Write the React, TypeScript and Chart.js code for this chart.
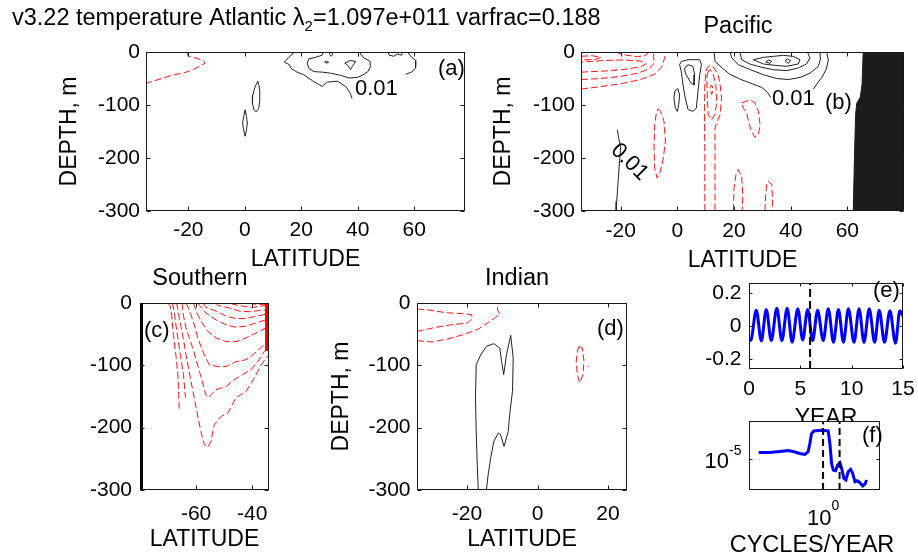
import React, { useEffect, useRef } from 'react';
import { Chart, registerables } from 'chart.js';

Chart.register(...registerables);

const FONT = "'Liberation Sans', Arial, Helvetica, sans-serif";
const RED = 'rgb(255,20,20)';
const DARK = '#222222';

type Pt = [number, number];

// ---------- shared ticks ----------
const latTicksAB = [-20, 0, 20, 40, 60];
const latTicksC = [-60, -40];
const latTicksD = [-20, 0, 20];
const depthTicks = [0, -100, -200, -300];
const yearTicks = [0, 5, 10, 15];
const anomTicks = [-0.2, 0, 0.2];
const freqTicks = [1];
const powerTicks = [1e-5];

// ---------- (a) Atlantic contours (lat, depth) ----------
const aNeg1: Pt[] = [[-20.6, 0], [-20.0, -8], [-17.6, -11], [-14.7, -16], [-14.1, -21], [-15.9, -27], [-18.2, -33], [-21.8, -40], [-25.3, -43], [-28.9, -49], [-33.6, -57], [-35, -59]];
const aPos1: Pt[] = [[4.6, -55], [3.6, -66], [2.8, -82], [2.7, -97], [3.2, -108], [4.0, -113], [4.9, -107], [5.3, -92], [5.3, -75], [5.0, -63], [4.6, -55]];
const aPos2: Pt[] = [[0.1, -109], [-0.4, -122], [-0.8, -134], [-0.4, -147], [0.1, -159], [0.6, -147], [0.9, -134], [0.6, -122], [0.1, -109]];
const aPos3: Pt[] = [[17.6, 0], [15.6, -10], [14.0, -19], [15.8, -24], [16.4, -31], [18.5, -38], [20.9, -43], [23.9, -54], [27.4, -65], [29.2, -57], [32.8, -55], [35.7, -65], [37.3, -77], [38.0, -88]];
const aPos4: Pt[] = [[27.8, 0], [27.4, -6], [25.1, -10], [22.7, -13], [22.1, -21], [22.7, -31], [24.5, -37], [27.4, -38], [30.4, -40], [33.9, -44], [36.9, -49], [39.9, -48], [41.6, -44], [43.6, -37], [44.6, -27], [44.4, -18], [42.2, -11], [41.0, -4], [40.8, 0]];
const aPos5: Pt[] = [[35.4, -21], [37.3, -16], [39.3, -18], [38.1, -27], [37.5, -33], [36.3, -24], [35.4, -21]];
const aPos6: Pt[] = [[30.2, 0], [30.0, -5], [30.6, -8], [31.1, -5], [31.0, 0]];
const aPos7: Pt[] = [[28.3, -19], [29.0, -17.5], [29.7, -19.5], [29.0, -21], [28.3, -19]];
const aPos8: Pt[] = [[50.8, 0], [51.1, -6], [52.7, -8], [54.1, -4], [55.5, -6], [55.9, 0]];
const aPos9: Pt[] = [[57.6, 0], [59.1, -10], [60.6, -16], [60.5, -30], [59.1, -38], [57.0, -42]];

// ---------- (b) Pacific ----------
const bNeg1: Pt[] = [[-34, -70], [-28, -66], [-20, -60], [-13, -52], [-8, -42], [-5.5, -28], [-4.5, -12], [-4.2, 0]];
const bNeg2: Pt[] = [[-34, -52], [-27, -50], [-20, -46], [-14, -40], [-10, -32], [-8, -20], [-8.5, -8], [-8, 0]];
const bNeg3: Pt[] = [[-34, -38], [-26, -36], [-19, -33], [-13, -28], [-11, -22], [-13, -17], [-19, -15], [-26, -16], [-34, -19]];
const bNeg4: Pt[] = [[-34, -8], [-30, -7], [-27, -10], [-29, -14], [-34, -15]];
const bNeg5: Pt[] = [[-22, 0], [-18, -6], [-14, -9], [-11, -6], [-10, 0]];
const bNeg6: Pt[] = [[9.7, -300], [9.7, -200], [9.6, -120], [9.7, -60], [10.3, -32], [11.5, -25], [13.0, -30], [14.5, -45], [15.1, -62], [15.6, -87], [15.1, -118], [13.9, -134], [13.3, -143], [13.3, -220], [13.3, -300]];
const bNeg7: Pt[] = [[10.6, -40], [11.5, -33], [12.7, -43], [13.6, -62], [13.9, -93], [13.3, -118], [12.1, -128], [10.9, -118], [10.6, -87], [10.4, -55], [10.6, -40]];
const bNeg8: Pt[] = [[11.5, -68], [12.1, -62], [12.7, -71], [12.1, -80], [11.5, -68]];
const bNeg9: Pt[] = [[-6.8, -107], [-5.9, -112], [-4.7, -131], [-4.2, -168], [-5.1, -206], [-6.2, -228], [-7.1, -238], [-8.0, -219], [-8.2, -181], [-8.0, -137], [-7.4, -115], [-6.8, -107]];
const bNeg10: Pt[] = [[22.7, -96], [25.6, -90], [27.4, -96], [28.6, -112], [29.2, -137], [28.6, -156], [27.4, -161], [26.2, -150], [25.1, -131], [24.5, -115], [23.3, -106], [22.7, -96]];
const bNeg11: Pt[] = [[19.8, -300], [20.0, -257], [20.7, -231], [21.5, -222], [22.7, -235], [23.1, -269], [22.9, -300]];
const bNeg12: Pt[] = [[30.9, -300], [31.2, -269], [31.5, -250], [32.1, -244], [33.3, -250], [33.6, -276], [33.5, -300]];
const bPos1: Pt[] = [[1.4, -18], [3.8, -14.5], [7.9, -14.5], [8.5, -24], [7.9, -43], [7.3, -74], [6.7, -106], [5.5, -112], [3.8, -109], [2.8, -87], [2.0, -62], [1.4, -37], [0.8, -24], [1.4, -18]];
const bPos2: Pt[] = [[2.6, -30], [3.8, -24], [5.5, -27], [6.1, -43], [5.9, -62], [4.9, -59], [3.8, -49], [2.8, -40], [2.6, -30]];
const bPos3: Pt[] = [[-0.9, -74], [0.2, -69], [0.8, -81], [0.5, -99], [0, -112], [-0.7, -106], [-1.2, -87], [-0.9, -74]];
const bPos4: Pt[] = [[-21.2, -147], [-20.7, -162], [-20.0, -181], [-20.4, -206], [-20.9, -244], [-21.4, -282], [-21.6, -300]];
const bPos5: Pt[] = [[13.0, 0], [13.3, -18], [15.8, -30], [18.5, -42], [22.5, -52], [26.5, -60], [29.8, -67], [31.8, -76], [33.0, -86]];
const bPos6: Pt[] = [[52.7, 0], [53.3, -15], [52.6, -32], [51.0, -48], [49.0, -62], [48.0, -70]];
const bPos7: Pt[] = [[18.6, 0], [19.2, -11], [21.5, -24], [25.6, -33], [30.4, -43], [35.1, -50], [39.2, -52], [43.3, -48], [46.8, -40], [49.8, -27], [50.6, -11], [50.4, 0]];
const bPos8: Pt[] = [[22.1, 0], [22.7, -14.5], [25.6, -22.6], [29.8, -28.9], [33.9, -33.3], [38.6, -35.2], [42.7, -30.2], [45.6, -22.6], [46.8, -11.3], [45.9, 0]];
const bPos9: Pt[] = [[26.8, -14.5], [30.4, -10.1], [33.9, -8.2], [37.4, -6.3], [40.9, -8.2], [43.3, -14.5], [42.7, -22.6], [38.6, -27.0], [34.5, -25.2], [30.4, -22.6], [26.8, -14.5]];
const bPos10: Pt[] = [[31.3, -18.9], [32.1, -15.1], [33.3, -17.6], [32.7, -21.4], [31.3, -18.9]];
const bPos11: Pt[] = [[38.0, -16.4], [38.8, -13.2], [40.0, -16.4], [39.2, -21.4], [38.0, -16.4]];
const bLand: Pt[] = [[65.6, 0], [65.2, -60], [64.6, -85], [63.3, -97], [62.9, -120], [62.5, -200], [62.1, -300], [80, -300], [80, 0], [65.6, 0]];

// ---------- (c) Southern ----------
const cNeg1: Pt[] = [[-70, 0], [-69.2, -5], [-68.6, -24], [-68.1, -51], [-67.2, -83], [-66.5, -115], [-66.2, -147], [-66.0, -174]];
const cNeg2: Pt[] = [[-68.5, 0], [-67.8, -13], [-66.9, -45], [-65.6, -83], [-64.5, -115], [-63.8, -152]];
const cNeg3: Pt[] = [[-67, 0], [-66.4, -12], [-66.0, -24], [-64.8, -51], [-63.6, -83], [-61.8, -126], [-60.0, -168], [-58.3, -206], [-57.1, -227], [-55.9, -232], [-54.7, -222], [-53.5, -195], [-51.1, -182], [-48.7, -177], [-45.8, -152], [-42.2, -142], [-39.2, -120], [-37.4, -104], [-35.1, -88], [-34, -84]];
const cNeg4: Pt[] = [[-65, 0], [-64.5, -20], [-63.6, -40], [-61.2, -72], [-58.8, -110], [-56.5, -147], [-55.5, -152], [-54.7, -147], [-52.9, -139], [-49.3, -134], [-46.4, -123], [-43.4, -115], [-40.4, -107], [-38.0, -94], [-35.7, -78], [-34, -72]];
const cNeg5: Pt[] = [[-63.5, 0], [-62, -17], [-60.6, -35], [-59.4, -56], [-57.1, -83], [-55.3, -99], [-52.3, -102], [-49.3, -102], [-45.8, -94], [-42.2, -91], [-39.8, -83], [-36.9, -72], [-34.8, -62], [-34, -60]];
const cNeg6: Pt[] = [[-61, 0], [-60.3, -8], [-59.5, -18], [-58.0, -31], [-55.9, -45], [-52.9, -56], [-49.3, -62], [-45.8, -62], [-42.2, -56], [-38.6, -48], [-35.1, -40], [-34, -38]];
const cNeg7: Pt[] = [[-59.5, 0], [-57.8, -9], [-56.5, -16], [-52.9, -27], [-49.3, -35], [-45.8, -39], [-42.2, -37], [-38.6, -32], [-35.1, -27], [-34, -26]];
const cNeg8: Pt[] = [[-57.5, 0], [-56.5, -7], [-52.9, -13], [-49.3, -21], [-45.8, -25], [-42.2, -25], [-38.6, -21], [-34.8, -18], [-34, -17]];
const cNeg9: Pt[] = [[-53, 0], [-52.3, -4], [-48.1, -8], [-44.6, -13], [-41.0, -14], [-37.4, -12], [-34.5, -11], [-34, -10.5]];
const cNeg10: Pt[] = [[-47.5, 0], [-47.0, -2], [-43.4, -5], [-39.8, -7], [-36.9, -5], [-34.5, -4], [-34, -3.8]];
const cNeg11: Pt[] = [[-41, 0], [-39, -2], [-36.5, -2.2], [-34, -1.8]];
const cEdge: Pt[] = [[-34.7, 0], [-34.7, -77]];

// ---------- (d) Indian ----------
const dNeg1: Pt[] = [[-34.2, -9.6], [-30.8, -11.2], [-26.1, -15.5], [-21.3, -17.1], [-18.7, -18.7], [-18.5, -25.1], [-19.9, -32.1], [-24.2, -34.8], [-28.9, -39.0], [-32.7, -43.9], [-34.2, -45.5]];
const dNeg2: Pt[] = [[-34.2, -60.4], [-29.9, -62.6], [-25.1, -57.2], [-20.4, -49.7], [-16.6, -41.2], [-13.8, -30.5], [-11.9, -23.0], [-10.7, -17.6], [-11.4, -10.7], [-11.1, 0]];
const dNeg3: Pt[] = [[11.8, -69.5], [12.7, -72.2], [13.2, -93.6], [12.9, -115], [12.0, -128.3], [11.3, -115], [11.0, -93.6], [11.3, -77.5], [11.8, -69.5]];
const dNeg4: Pt[] = [[14.1, -101], [14.5, -102.5]];
const dPos1: Pt[] = [[-16.8, -300], [-17.1, -259], [-17.4, -206], [-17.6, -152], [-17.4, -99], [-16.1, -83], [-14.5, -69.5], [-12.4, -65.2], [-10.7, -72.2], [-10.2, -93.6], [-9.6, -115], [-8.8, -82.9], [-7.6, -51.9], [-6.9, -88.2], [-7.1, -141.7], [-7.9, -179], [-8.3, -206], [-9.5, -230], [-10.5, -211], [-11.1, -208.5], [-12.4, -222], [-13.3, -249], [-14.0, -275], [-14.5, -300]];

// ---------- (e) time series ----------
const eYears = [0, 0.16, 0.71, 1.2, 1.68, 2.17, 2.71, 3.2, 3.72, 4.2, 4.75, 5.23, 5.71, 6.2, 6.68, 7.23, 7.72, 8.23, 8.71, 9.2, 9.68, 10.23, 10.72, 11.2, 11.71, 12.24, 12.68, 13.2, 13.72, 14.27, 14.69, 15];
const eAnom = [-0.075, -0.088, 0.095, -0.09, 0.1, -0.088, 0.108, -0.088, 0.108, -0.098, 0.105, -0.085, 0.1, -0.088, 0.095, -0.088, 0.105, -0.098, 0.1, -0.098, 0.105, -0.098, 0.105, -0.098, 0.105, -0.098, 0.095, -0.098, 0.092, -0.104, 0.092, 0.06];
const eMarkYear = 5.95;

// ---------- (f) spectrum ----------
const fFreq = [0.074, 0.116, 0.173, 0.243, 0.298, 0.391, 0.479, 0.547, 0.586, 0.627, 0.689, 0.941, 1.23, 1.318, 1.41, 1.51, 1.66, 1.80, 1.98, 2.12, 2.32, 2.52, 2.77, 3.05, 3.31, 3.63, 3.98, 4.44, 4.96, 5.44, 5.83];
const fPower = [1.377e-5, 1.377e-5, 1.44e-5, 1.51e-5, 1.44e-5, 1.315e-5, 1.256e-5, 1.42e-5, 2.08e-5, 3.29e-5, 3.72e-5, 3.83e-5, 3.72e-5, 2.08e-5, 8.3e-6, 6.12e-6, 5.94e-6, 7.69e-6, 8.57e-6, 6.6e-6, 4.18e-6, 3.87e-6, 5.68e-6, 6.31e-6, 5.26e-6, 3.58e-6, 3.75e-6, 3.42e-6, 2.94e-6, 3.22e-6, 3.87e-6];
const fMarks = [1, 1.95];

// ---------- dataset helpers ----------
const toXY = (pts: Pt[]) => pts.map(([x, y]) => ({ x, y }));
const negLine = (pts: Pt[]) => ({ data: toXY(pts), borderColor: RED, borderWidth: 1, borderDash: [7, 3], pointRadius: 0, fill: false, tension: 0 });
const posLine = (pts: Pt[]) => ({ data: toXY(pts), borderColor: DARK, borderWidth: 1, pointRadius: 0, fill: false, tension: 0 });

const fmt = (v: number) => (v === 0 ? '0' : String(v));

interface Run { text: string; size: number; dy?: number }
interface TextItem { x?: number; y?: number; atX?: number; atY?: number; dx?: number; dy?: number; align?: string; baseline?: string; rot?: number; runs: Run[] }

const panels: any[] = [
  {
    id: 'a', box: { L: 146, T: 52, R: 465, B: 211 }, yW: 90, xH: 62, tickLen: 4,
    x: { type: 'linear', min: -35, max: 78, ticks: latTicksAB, pad: 6.5, title: 'LATITUDE' },
    y: { type: 'linear', min: -300, max: 0, ticks: depthTicks, pad: 6, title: 'DEPTH, m' },
    datasets: [aNeg1].map(negLine).concat([aPos1, aPos2, aPos3, aPos4, aPos5, aPos6, aPos7, aPos8, aPos9].map(posLine)),
    texts: [
      { x: 12, y: 25, runs: [{ text: 'v3.22 temperature Atlantic λ', size: 23.5 }, { text: '2', size: 15, dy: 6 }, { text: '=1.097e+011 varfrac=0.188', size: 23.5 }] },
      { x: 438, y: 75, runs: [{ text: '(a)', size: 22 }] },
      { x: 355, y: 94.5, runs: [{ text: '0.01', size: 22 }] },
    ],
  },
  {
    id: 'b', box: { L: 581, T: 52, R: 904, B: 211 }, yW: 91, xH: 63, tickLen: 4,
    x: { type: 'linear', min: -34, max: 80, ticks: latTicksAB, pad: 8, title: 'LATITUDE' },
    y: { type: 'linear', min: -300, max: 0, ticks: depthTicks, pad: 6, title: 'DEPTH, m' },
    datasets: [
      { data: toXY(bLand), borderColor: '#1c1c1c', backgroundColor: '#1c1c1c', borderWidth: 1, pointRadius: 0, fill: 'shape', tension: 0 },
    ].concat([bNeg1, bNeg2, bNeg3, bNeg4, bNeg5, bNeg6, bNeg7, bNeg8, bNeg9, bNeg10, bNeg11, bNeg12].map(negLine) as any)
      .concat([bPos1, bPos2, bPos3, bPos4, bPos5, bPos6, bPos7, bPos8, bPos9, bPos10, bPos11].map(posLine) as any),
    texts: [
      { x: 738, y: 33, align: 'center', runs: [{ text: 'Pacific', size: 23.5 }] },
      { x: 825, y: 108.5, runs: [{ text: '(b)', size: 22 }] },
      { x: 772, y: 104.5, runs: [{ text: '0.01', size: 22 }] },
      { x: 629.5, y: 162, align: 'center', baseline: 'middle', rot: 45, runs: [{ text: '0.01', size: 22 }] },
    ],
  },
  {
    id: 'c', box: { L: 140, T: 303, R: 269, B: 490 }, yW: 60, xH: 63, tickLen: 4, thickLeft: 3,
    x: { type: 'linear', min: -80, max: -34, ticks: latTicksC, pad: 12, title: 'LATITUDE' },
    y: { type: 'linear', min: -300, max: 0, ticks: depthTicks, pad: 8 },
    datasets: [
      { data: toXY(cEdge), borderColor: 'rgb(255,0,0)', borderWidth: 4, pointRadius: 0, fill: false, tension: 0 },
    ].concat([cNeg1, cNeg2, cNeg3, cNeg4, cNeg5, cNeg6, cNeg7, cNeg8, cNeg9, cNeg10, cNeg11].map(negLine) as any),
    texts: [
      { x: 200, y: 285, align: 'center', runs: [{ text: 'Southern', size: 23.5 }] },
      { x: 144, y: 337, runs: [{ text: '(c)', size: 22 }] },
    ],
  },
  {
    id: 'd', box: { L: 417, T: 303, R: 627, B: 490 }, yW: 89.5, xH: 63, tickLen: 4,
    x: { type: 'linear', min: -34.2, max: 25.4, ticks: latTicksD, pad: 12, title: 'LATITUDE' },
    y: { type: 'linear', min: -300, max: 0, ticks: depthTicks, pad: 6.5, title: 'DEPTH, m' },
    datasets: [dNeg1, dNeg2, dNeg3, dNeg4].map(negLine).concat([dPos1].map(posLine) as any),
    texts: [
      { x: 517, y: 285, align: 'center', runs: [{ text: 'Indian', size: 23.5 }] },
      { x: 597, y: 335, runs: [{ text: '(d)', size: 22 }] },
    ],
  },
  {
    id: 'e', box: { L: 749, T: 283, R: 903, B: 369 }, yW: 60, xH: 63, tickLen: 3,
    x: { type: 'linear', min: 0, max: 15, ticks: yearTicks, pad: 8, title: 'YEAR' },
    y: { type: 'linear', min: -0.26, max: 0.26, ticks: anomTicks, pad: 7.5 },
    datasets: [
      { data: [{ x: eMarkYear, y: -0.26 }, { x: eMarkYear, y: 0.26 }], borderColor: '#000', borderWidth: 2, borderDash: [8, 4], pointRadius: 0, fill: false },
      { data: eYears.map((t, i) => ({ x: t, y: eAnom[i] })), borderColor: '#0000ff', borderWidth: 3, pointRadius: 0, fill: false, cubicInterpolationMode: 'monotone' },
    ],
    texts: [{ x: 873, y: 297, runs: [{ text: '(e)', size: 22 }] }],
  },
  {
    id: 'f', box: { L: 749, T: 421, R: 880, B: 490 }, yW: 60, xH: 66, tickLen: 3, whiteBg: true,
    x: { type: 'logarithmic', min: 0.05, max: 10, ticks: freqTicks, hideLabels: true },
    y: { type: 'logarithmic', min: 2.44e-6, max: 5.87e-5, ticks: powerTicks, hideLabels: true },
    datasets: fMarks.map((m) => ({ data: [{ x: m, y: 2.44e-6 }, { x: m, y: 5.87e-5 }], borderColor: '#000', borderWidth: 2, borderDash: [7, 4], pointRadius: 0, fill: false }) as any)
      .concat([{ data: fFreq.map((f, i) => ({ x: f, y: fPower[i] })), borderColor: '#0000ff', borderWidth: 3, pointRadius: 0, fill: false, tension: 0 }]),
    texts: [
      { x: 862, y: 442, runs: [{ text: '(f)', size: 22 }] },
      { atX: 1, y: 525, align: 'center', runs: [{ text: '10', size: 22 }, { text: '0', size: 14, dy: -15 }] },
      { x: 741.5, atY: 1e-5, dy: 8.5, align: 'right', runs: [{ text: '10', size: 22 }, { text: '-5', size: 14, dy: -13 }] },
      { x: 812, y: 552, align: 'center', runs: [{ text: 'CYCLES/YEAR', size: 23.5 }] },
    ],
  },
];

function makeFramePlugin(p: any) {
  return {
    id: 'frame',
    beforeDraw(chart: any) {
      if (!p.whiteBg) return;
      const { ctx, chartArea: a } = chart;
      ctx.save();
      ctx.fillStyle = '#ffffff';
      ctx.fillRect(a.left, a.top, a.right - a.left, a.bottom - a.top);
      ctx.restore();
    },
    afterDraw(chart: any) {
      const { ctx, chartArea: a, scales } = chart;
      ctx.save();
      ctx.strokeStyle = '#1a1a1a';
      ctx.lineWidth = 1;
      const L = Math.round(a.left) + 0.5;
      const R = Math.round(a.right) - 0.5;
      const T = Math.round(a.top) + 0.5;
      const B = Math.round(a.bottom) - 0.5;
      ctx.strokeRect(L, T, R - L, B - T);
      const len = p.tickLen;
      ctx.beginPath();
      for (const v of p.x.ticks) {
        const px = Math.round(scales.x.getPixelForValue(v)) + 0.5;
        ctx.moveTo(px, B); ctx.lineTo(px, B - len);
        ctx.moveTo(px, T); ctx.lineTo(px, T + len);
      }
      for (const v of p.y.ticks) {
        const py = Math.round(scales.y.getPixelForValue(v)) + 0.5;
        ctx.moveTo(L, py); ctx.lineTo(L + len, py);
        ctx.moveTo(R, py); ctx.lineTo(R - len, py);
      }
      ctx.stroke();
      if (p.thickLeft) {
        ctx.lineWidth = p.thickLeft;
        ctx.strokeStyle = '#000';
        ctx.beginPath();
        ctx.moveTo(a.left + p.thickLeft / 2, a.top);
        ctx.lineTo(a.left + p.thickLeft / 2, a.bottom);
        ctx.stroke();
      }
      ctx.restore();
    },
  };
}

function makeTextPlugin(items: TextItem[]) {
  return {
    id: 'texts',
    afterDraw(chart: any) {
      const ctx = chart.ctx;
      for (const it of items) {
        ctx.save();
        const x = it.atX !== undefined ? chart.scales.x.getPixelForValue(it.atX) + (it.dx || 0) : (it.x as number);
        const y = it.atY !== undefined ? chart.scales.y.getPixelForValue(it.atY) + (it.dy || 0) : (it.y as number);
        ctx.translate(x, y);
        if (it.rot) ctx.rotate((it.rot * Math.PI) / 180);
        ctx.fillStyle = '#000';
        ctx.textAlign = 'left';
        ctx.textBaseline = it.baseline || 'alphabetic';
        let total = 0;
        for (const r of it.runs) {
          ctx.font = `${r.size}px ${FONT}`;
          total += ctx.measureText(r.text).width;
        }
        let cx = it.align === 'center' ? -total / 2 : it.align === 'right' ? -total : 0;
        for (const r of it.runs) {
          ctx.font = `${r.size}px ${FONT}`;
          ctx.fillText(r.text, cx, r.dy || 0);
          cx += ctx.measureText(r.text).width;
        }
        ctx.restore();
      }
    },
  };
}

function buildConfig(p: any): any {
  const mkScale = (axis: 'x' | 'y', s: any) => ({
    type: s.type,
    min: s.min,
    max: s.max,
    bounds: 'data',
    position: axis === 'x' ? 'bottom' : 'left',
    grid: { display: false, drawTicks: false },
    border: { display: false },
    ticks: {
      display: !s.hideLabels,
      autoSkip: false,
      maxRotation: 0,
      minRotation: 0,
      padding: s.pad || 0,
      color: '#000',
      font: { family: FONT, size: 21 },
      callback: (v: any) => fmt(Number(v)),
    },
    title: s.title
      ? { display: true, text: s.title, color: '#000', font: { family: FONT, size: 23, lineHeight: 1.2 }, padding: 0 }
      : { display: false },
    afterBuildTicks: (sc: any) => {
      sc.ticks = s.ticks.map((v: number) => ({ value: v }));
    },
    afterFit: (sc: any) => {
      if (axis === 'x') sc.height = p.xH;
      else sc.width = p.yW;
      sc.paddingLeft = 0;
      sc.paddingRight = 0;
      sc.paddingTop = 0;
      sc.paddingBottom = 0;
    },
  });
  const { L, T, R, B } = p.box;
  return {
    type: 'line',
    data: { datasets: p.datasets },
    options: {
      responsive: false,
      maintainAspectRatio: false,
      animation: false,
      devicePixelRatio: 1,
      events: [],
      layout: {
        autoPadding: false,
        padding: { left: L - p.yW, top: T, right: 918 - R, bottom: Math.max(0, 556 - B - p.xH) },
      },
      plugins: { legend: { display: false }, tooltip: { enabled: false }, title: { display: false } },
      elements: { point: { radius: 0 }, line: { tension: 0 } },
      scales: { x: mkScale('x', p.x), y: mkScale('y', p.y) },
    },
    plugins: [makeFramePlugin(p), makeTextPlugin(p.texts)],
  };
}

function PanelCanvas({ p }: { p: any }) {
  const ref = useRef<HTMLCanvasElement | null>(null);
  useEffect(() => {
    if (!ref.current) return;
    const chart = new Chart(ref.current, buildConfig(p));
    return () => chart.destroy();
  }, [p]);
  return (
    <canvas
      ref={ref}
      width={918}
      height={556}
      style={{ position: 'absolute', left: 0, top: 0, width: 918, height: 556, display: 'block' }}
    />
  );
}

export default function App() {
  return (
    <div style={{ position: 'fixed', left: 0, top: 0, width: 918, height: 556, background: '#ffffff', overflow: 'hidden' }}>
      {panels.map((p) => (
        <PanelCanvas key={p.id} p={p} />
      ))}
    </div>
  );
}
